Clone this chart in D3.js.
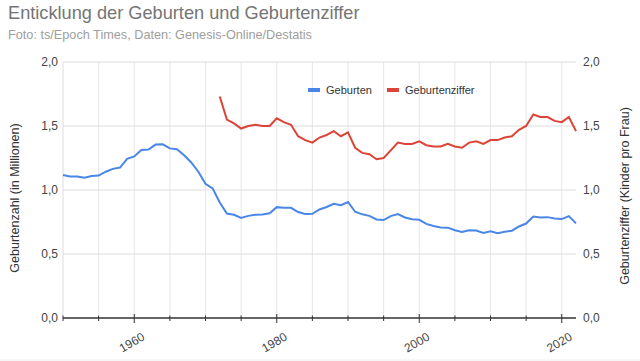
<!DOCTYPE html>
<html>
<head>
<meta charset="utf-8">
<script src="https://cdn.jsdelivr.net/npm/d3@7"></script>
<style>
  body { margin: 0; background: #fff; }
  svg { display: block; font-family: "Liberation Sans", Arial, sans-serif; }
</style>
</head>
<body>
<div id="chart"></div>
<script>
"use strict";

// Geburten in Millionen, 1950-2022
var birthYears = d3.range(1950, 2023);
var births = [
  1.117, 1.106, 1.105, 1.095, 1.110, 1.113, 1.143, 1.165, 1.175, 1.244,
  1.262, 1.313, 1.316, 1.355, 1.357, 1.325, 1.318, 1.272, 1.215, 1.143,
  1.048, 1.013, 0.902, 0.816, 0.806, 0.782, 0.798, 0.806, 0.808, 0.818,
  0.866, 0.862, 0.861, 0.828, 0.812, 0.814, 0.848, 0.867, 0.892, 0.881,
  0.906, 0.830, 0.810, 0.798, 0.770, 0.765, 0.796, 0.812, 0.785, 0.771,
  0.767, 0.735, 0.719, 0.707, 0.706, 0.686, 0.673, 0.685, 0.683, 0.665,
  0.678, 0.663, 0.674, 0.682, 0.715, 0.738, 0.792, 0.785, 0.788, 0.778,
  0.773, 0.796, 0.739
];

// Geburtenziffer (Kinder pro Frau), 1972-2022
var tfrYears = d3.range(1972, 2023);
var tfr = [
  1.73, 1.55, 1.52, 1.48, 1.50, 1.51, 1.50, 1.50,
  1.56, 1.53, 1.51, 1.42, 1.39, 1.37, 1.41, 1.43, 1.46, 1.42,
  1.45, 1.33, 1.29, 1.28, 1.24, 1.25, 1.31, 1.37, 1.36, 1.36,
  1.38, 1.35, 1.34, 1.34, 1.36, 1.34, 1.33, 1.37, 1.38, 1.36,
  1.39, 1.39, 1.41, 1.42, 1.47, 1.50, 1.59, 1.57, 1.57, 1.54,
  1.53, 1.57, 1.46
];

var yTicks = [0, 0.5, 1.0, 1.5, 2.0];
var xLabelYears = [1960, 1980, 2000, 2020];

var W = 640, H = 361;
var margin = {top: 62, right: 64, bottom: 43, left: 63};
var width = W - margin.left - margin.right,
    height = H - margin.top - margin.bottom;

var blue = "#4a86e8", red = "#db4437";
var fmt = function(v) { return d3.format(".1f")(v).replace(".", ","); };

var svg = d3.select("#chart").append("svg")
    .attr("width", W)
    .attr("height", H);

svg.append("text")
    .attr("x", 8).attr("y", 19)
    .style("font-size", "18.2px")
    .style("fill", "#757575")
    .text("Enticklung der Geburten und Geburtenziffer");

svg.append("text")
    .attr("x", 8).attr("y", 39)
    .style("font-size", "12.7px")
    .style("fill", "#9e9e9e")
    .text("Foto: ts/Epoch Times, Daten: Genesis-Online/Destatis");

svg.append("line")
    .attr("x1", 0).attr("x2", W)
    .attr("y1", 360).attr("y2", 360)
    .style("stroke", "#eeeeee");

var g = svg.append("g")
    .attr("transform", "translate(" + margin.left + "," + margin.top + ")");

var x = d3.scaleLinear().domain([1950, 2022]).range([0, width]);
var yL = d3.scaleLinear().domain([0, 2]).range([height, 0]);
var yR = d3.scaleLinear().domain([0, 2]).range([height, 0]);

// vertical gridlines every 5 years
var gridYears = d3.range(1955, 2022, 5);
g.selectAll(".vgrid")
    .data(gridYears)
  .enter().append("line")
    .attr("x1", function(d) { return x(d); })
    .attr("x2", function(d) { return x(d); })
    .attr("y1", 0).attr("y2", height)
    .style("stroke", "#e6e6e6");

// horizontal gridlines
g.selectAll(".hgrid")
    .data(yTicks.slice(1))
  .enter().append("line")
    .attr("x1", 0).attr("x2", width)
    .attr("y1", function(d) { return yL(d); })
    .attr("y2", function(d) { return yL(d); })
    .style("stroke", "#dddddd");

g.append("line")
    .attr("x1", 0).attr("x2", 0)
    .attr("y1", 0).attr("y2", height)
    .style("stroke", "#dddddd");

// left axis labels
var leftAxis = g.append("g")
    .call(d3.axisLeft(yL).tickValues(yTicks).tickFormat(fmt).tickSize(0).tickPadding(5));
leftAxis.select(".domain").remove();
leftAxis.selectAll("text").style("font-size", "12px").style("fill", "#444").style("font-family", "Liberation Sans, Arial, sans-serif");

// right axis labels
var rightAxis = g.append("g")
    .attr("transform", "translate(" + width + ",0)")
    .call(d3.axisRight(yR).tickValues(yTicks).tickFormat(fmt).tickSize(0).tickPadding(7));
rightAxis.select(".domain").remove();
rightAxis.selectAll("text").style("font-size", "12px").style("fill", "#444").style("font-family", "Liberation Sans, Arial, sans-serif");

// bottom baseline with ticks
g.append("line")
    .attr("x1", 0).attr("x2", width)
    .attr("y1", height).attr("y2", height)
    .style("stroke", "#333").style("stroke-width", 1.3);

g.selectAll(".xtick")
    .data(d3.range(1950, 2022, 5))
  .enter().append("line")
    .attr("x1", function(d) { return x(d); })
    .attr("x2", function(d) { return x(d); })
    .attr("y1", function(d) { return xLabelYears.indexOf(d) >= 0 ? height - 4 : height - 2.5; })
    .attr("y2", function(d) { return xLabelYears.indexOf(d) >= 0 ? height + 5 : height + 3; })
    .style("stroke", "#333");

g.selectAll(".xlabel")
    .data(xLabelYears)
  .enter().append("text")
    .attr("transform", function(d) { return "translate(" + (x(d) + 7) + "," + (height + 14) + ") rotate(-30)"; })
    .attr("text-anchor", "end")
    .attr("dy", "0.7em")
    .style("font-size", "12px")
    .style("fill", "#444")
    .text(function(d) { return d; });

// axis titles
svg.append("text")
    .attr("transform", "translate(19," + (margin.top + height / 2 + 8) + ") rotate(-90)")
    .attr("text-anchor", "middle")
    .style("font-size", "12.5px")
    .style("fill", "#333")
    .text("Geburtenzahl (in Millionen)");

svg.append("text")
    .attr("transform", "translate(629," + (margin.top + height / 2 + 6) + ") rotate(-90)")
    .attr("text-anchor", "middle")
    .style("font-size", "12.5px")
    .style("fill", "#333")
    .text("Geburtenziffer (Kinder pro Frau)");

// lines
var lineBirths = d3.line()
    .x(function(d, i) { return x(birthYears[i]); })
    .y(function(d) { return yL(d); });

var lineTfr = d3.line()
    .x(function(d, i) { return x(tfrYears[i]); })
    .y(function(d) { return yR(d); });

g.append("path")
    .datum(births)
    .attr("d", lineBirths)
    .style("fill", "none")
    .style("stroke", blue)
    .style("stroke-width", 2);

g.append("path")
    .datum(tfr)
    .attr("d", lineTfr)
    .style("fill", "none")
    .style("stroke", red)
    .style("stroke-width", 2);

// legend
var legend = [
  {name: "Geburten", color: blue, x: 308},
  {name: "Geburtenziffer", color: red, x: 387}
];
var lg = svg.selectAll(".legend")
    .data(legend)
  .enter().append("g")
    .attr("transform", function(d) { return "translate(" + d.x + ",90)"; });
lg.append("rect")
    .attr("x", 0).attr("y", -2)
    .attr("width", 12).attr("height", 4)
    .style("fill", function(d) { return d.color; });
lg.append("text")
    .attr("x", 18).attr("y", 4)
    .style("font-size", "11px")
    .style("fill", "#333")
    .text(function(d) { return d.name; });
</script>
</body>
</html>
